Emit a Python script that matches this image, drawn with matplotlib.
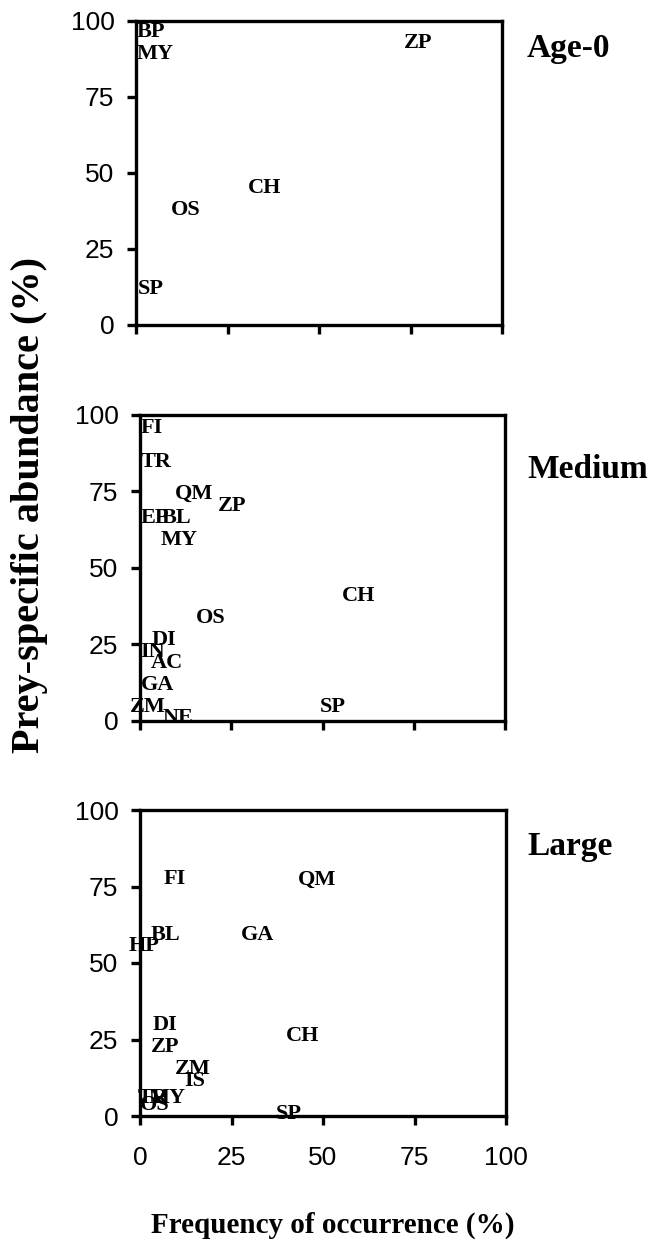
import matplotlib
matplotlib.use("Agg")
import matplotlib.pyplot as plt

# ---- data (label centres) ----
age0_labels = ["BP", "MY", "ZP", "CH", "OS", "SP"]
age0_freq = [4.1, 5.2, 77.2, 35.1, 13.5, 4.0]
age0_abund = [96.4, 89.0, 92.9, 45.2, 37.8, 11.8]

medium_labels = ["FI", "TR", "QM", "ZP", "EP", "BL", "MY", "CH", "OS",
                 "DI", "IN", "AC", "GA", "ZM", "NE", "SP"]
medium_freq = [3.3, 4.4, 14.8, 25.2, 4.1, 10.0, 10.8, 59.9, 19.5,
               6.7, 3.4, 7.4, 4.8, 2.1, 10.5, 52.7]
medium_abund = [95.6, 84.7, 74.3, 70.4, 66.5, 66.5, 59.3, 41.0, 33.8,
                26.6, 22.6, 19.1, 11.9, 4.7, 1.1, 4.7]

large_labels = ["FI", "QM", "BL", "HP", "GA", "DI", "ZP", "CH", "ZM",
                "IS", "TR", "MY", "OS", "SP"]
large_freq = [9.4, 48.4, 7.0, 1.0, 32.1, 6.7, 7.0, 44.4, 14.3,
              15.0, 3.6, 7.4, 4.1, 40.6]
large_abund = [77.5, 77.3, 59.0, 55.7, 59.0, 29.7, 22.5, 26.3, 15.2,
               11.6, 6.0, 6.0, 3.6, 0.5]

panel_titles = ["Age-0", "Medium", "Large"]
ticks = [0, 25, 50, 75, 100]

W, H = 662, 1259
fig = plt.figure(figsize=(W / 100, H / 100), dpi=100)

# pixel boxes: left, right, top, bottom
boxes = [(136, 502, 21, 325), (140, 505, 415, 721), (140, 506, 810, 1116)]
title_y = [48, 470, 846]
series = [(age0_labels, age0_freq, age0_abund),
          (medium_labels, medium_freq, medium_abund),
          (large_labels, large_freq, large_abund)]

for i, ((l, r, t, b), (labs, xs, ys)) in enumerate(zip(boxes, series)):
    ax = fig.add_axes([l / W, 1 - b / H, (r - l) / W, (b - t) / H])
    ax.set_xlim(0, 100)
    ax.set_ylim(0, 100)
    for lab, x, y in zip(labs, xs, ys):
        ax.text(x, y, lab, ha="center", va="center",
                family="Liberation Serif", fontweight="bold", fontsize=16,
                color="black", clip_on=False)
    for sp in ax.spines.values():
        sp.set_linewidth(2.4)
        sp.set_color("black")
    ax.set_xticks(ticks)
    ax.set_yticks(ticks)
    ax.tick_params(direction="out", length=6.5, width=2.4, color="black",
                   labelsize=19)
    ax.tick_params(axis="y", pad=9)
    ax.tick_params(axis="x", pad=15)
    for lab in ax.get_yticklabels() + ax.get_xticklabels():
        lab.set_family("Liberation Sans")
    if i < 2:
        ax.set_xticklabels([])
    fig.text(527 / W, 1 - title_y[i] / H, panel_titles[i],
             family="Liberation Serif", fontweight="bold", fontsize=24,
             ha="left", va="center")

fig.text(30 / W, 1 - 505 / H, "Prey-specific abundance (%)",
         family="Liberation Serif", fontweight="bold", fontsize=29,
         rotation=90, ha="center", va="center")
fig.text(333 / W, 1 - 1225 / H, "Frequency of occurrence (%)",
         family="Liberation Serif", fontweight="bold", fontsize=21,
         ha="center", va="center")

fig.savefig("out.png", dpi=100, facecolor="white")
